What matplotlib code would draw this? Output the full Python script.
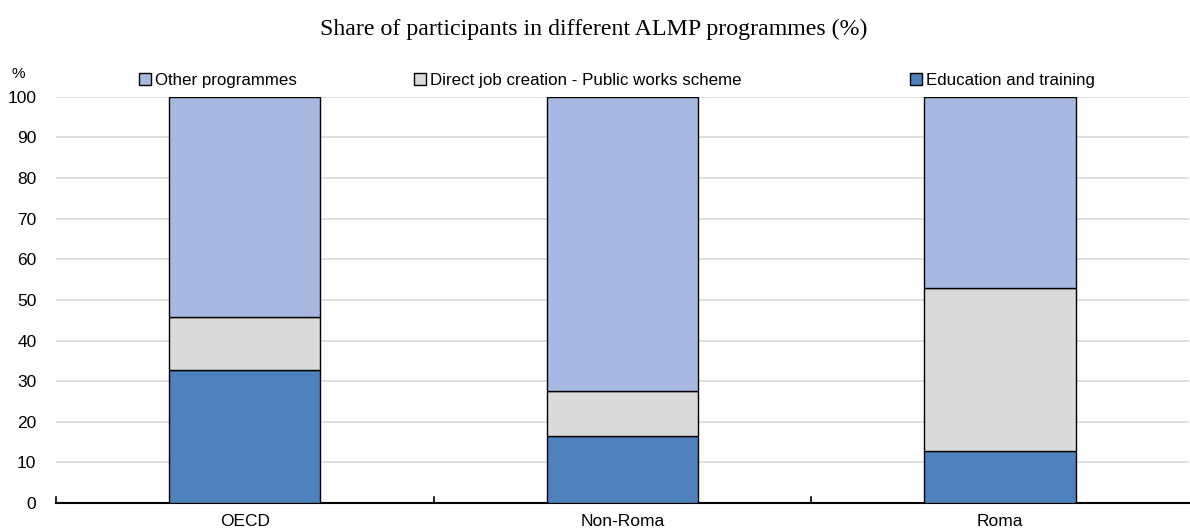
import matplotlib.pyplot as plt
from matplotlib.patches import Patch

categories = ["OECD", "Non-Roma", "Roma"]
education = [32.7, 16.5, 12.8]
direct_job = [13.2, 11.2, 40.1]
other = [54.1, 72.3, 47.1]

series_names = ["Education and training",
                "Direct job creation - Public works scheme",
                "Other programmes"]
colors = ["#4f81bd", "#dadada", "#a7b8e1"]

plt.rcParams["font.family"] = ["Liberation Sans Narrow", "Liberation Sans", "DejaVu Sans"]

fig = plt.figure(figsize=(11.9, 5.29), dpi=100)
ax = fig.add_axes([0.047, 0.049, 0.952, 0.768])

x = list(range(len(categories)))
bottom2 = [a + b for a, b in zip(education, direct_job)]
ax.bar(x, education, width=0.4, color=colors[0], edgecolor="black", linewidth=1, zorder=3)
ax.bar(x, direct_job, width=0.4, bottom=education, color=colors[1], edgecolor="black",
       linewidth=1, zorder=3)
ax.bar(x, other, width=0.4, bottom=bottom2, color=colors[2], edgecolor="black",
       linewidth=1, zorder=3)

ax.set_xlim(-0.5, len(categories) - 0.5)
ax.set_ylim(0, 100)
ax.set_yticks(range(0, 101, 10))
ax.set_xticks(x)
ax.set_xticklabels(categories)
ax.tick_params(axis="y", length=0, labelsize=12.5, pad=14)
ax.tick_params(axis="x", length=0, labelsize=12.5, pad=8)
for b in [-0.5, 0.5, 1.5]:
    ax.plot([b, b], [0, 1.4], color="black", linewidth=1.2, zorder=4, clip_on=False)

ax.yaxis.grid(True, color="#d9d9d9", linewidth=1.2, zorder=0)
for s in ["top", "right", "left"]:
    ax.spines[s].set_visible(False)
ax.spines["bottom"].set_linewidth(1.5)

fig.text(0.4985, 0.944, "Share of participants in different ALMP programmes (%)",
         ha="center", va="center", fontsize=17.2, family="Liberation Serif")
fig.text(0.01, 0.86, "%", fontsize=11, ha="left", va="center")

legend_pos = [(0.117, colors[2], series_names[2]),
              (0.348, colors[1], series_names[1]),
              (0.765, colors[0], series_names[0])]
for xpos, c, name in legend_pos:
    leg = fig.legend(handles=[Patch(facecolor=c, edgecolor="black", linewidth=1)],
                     labels=[name], loc="center left", bbox_to_anchor=(xpos, 0.848),
                     frameon=False, fontsize=12.2, handlelength=0.7, handleheight=0.7,
                     handletextpad=0.25, borderpad=0, borderaxespad=0)

fig.savefig("out.png", dpi=100)
